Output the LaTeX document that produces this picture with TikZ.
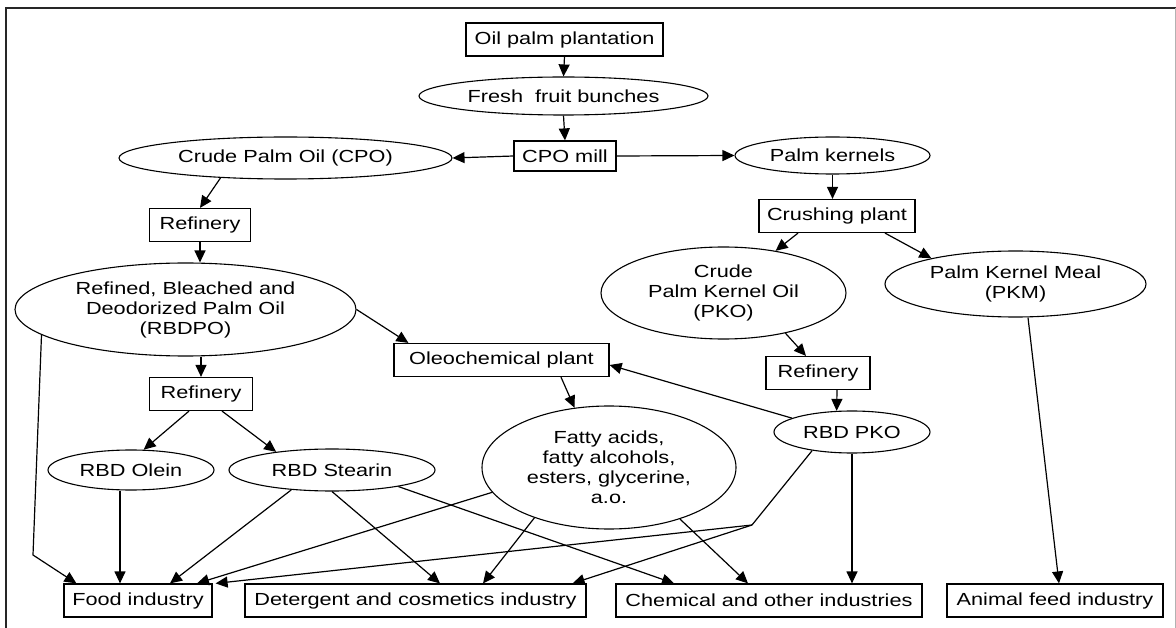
\documentclass[tikz,border=0pt]{standalone}
\usepackage{fontspec}
\setmainfont{Liberation Sans}[FakeStretch=1.24]
\usetikzlibrary{shapes,arrows.meta}

\tikzset{
  box/.style={draw, line width=1.2pt, inner sep=0pt, minimum height=33pt},
  oval/.style={draw, ellipse, line width=1.1pt, inner sep=0pt, align=center},
  arr/.style={-{Triangle[length=12pt,width=11pt]}, line width=1.2pt},
  ln/.style={line width=1.2pt}
}

\begin{document}
\begin{tikzpicture}[x=1pt, y=-1pt, font=\fontsize{17.5}{20}\selectfont]
    \useasboundingbox (0,0) rectangle (1176,628);
    % frame
    \draw[line width=2.2pt, black!85] (6,628) -- (6,8) -- (1176,8);
    \draw[line width=1pt, black!30] (1175,8) -- (1175,628);

    % mill line
    \node[box, minimum width=197pt] (plant) at (564.5,39.5) {Oil palm plantation};
    \node[oval, minimum width=289pt, minimum height=38pt] (ffb) at (563.5,96) {Fresh\ \ fruit bunches};
    \node[box, minimum width=102pt, minimum height=30pt] (mill) at (565,156) {CPO mill};
    \node[oval, minimum width=333pt, minimum height=42pt] (cpo) at (285.5,158) {Crude Palm Oil (CPO)};
    \node[oval, minimum width=195pt, minimum height=37pt] (kernels) at (832.5,155.5) {Palm kernels};

    % palm oil side
    \node[box, minimum width=101pt] (ref1) at (200,225) {Refinery};
    \node[oval, minimum width=341pt, minimum height=93pt] (rbdpo) at (185.5,309.5)
        {Refined, Bleached and\\Deodorized Palm Oil\\(RBDPO)};
    \node[box, minimum width=103pt] (ref2) at (201,394) {Refinery};
    \node[oval, minimum width=166pt, minimum height=40pt] (olein) at (131,470) {RBD Olein};
    \node[oval, minimum width=206pt, minimum height=42pt] (stearin) at (332,470) {RBD Stearin};
    \node[box, minimum width=215pt] (oleo) at (501.5,360) {Oleochemical plant};
    \node[oval, minimum width=254pt, minimum height=123pt] (fatty) at (609,467.5)
        {Fatty acids,\\fatty alcohols,\\esters, glycerine,\\a.o.};

    % kernel side
    \node[box, minimum width=156pt] (crush) at (837,216) {Crushing plant};
    \node[oval, minimum width=245pt, minimum height=92pt] (cpko) at (723.5,293)
        {Crude\\Palm Kernel Oil\\(PKO)};
    \node[oval, minimum width=261pt, minimum height=66pt] (pkm) at (1015.5,284)
        {Palm Kernel Meal\\(PKM)};
    \node[box, minimum width=104pt] (ref3) at (818,373) {Refinery};
    \node[oval, minimum width=156pt, minimum height=42pt] (rbdpko) at (852,432) {RBD PKO};

    % industries
    \node[box, minimum width=148pt] (food) at (138,600.5) {Food industry};
    \node[box, minimum width=341pt] (deter) at (415.5,600.5) {Detergent and cosmetics industry};
    \node[box, minimum width=306pt] (chem) at (769,600.5) {Chemical and other industries};
    \node[box, minimum width=216pt] (feed) at (1055,600.5) {Animal feed industry};

    \coordinate (kinkA) at (33,555);
    \coordinate (kinkB) at (752,525);

    \draw[arr] (plant.south) -- (ffb.north);
    \draw[arr] (ffb.south) -- (mill.north);
    \draw[arr] (mill.west) -- (cpo.east);
    \draw[arr] (mill.east) -- (kernels.west);
    \draw[arr] (kernels.south) -- (kernels.south |- crush.north);
    \draw[arr] (cpo.197) -- (ref1.north);
    \draw[arr] (ref1.south) -- (ref1.south |- rbdpo.north);
    \draw[arr] (ref2.north |- rbdpo.south) -- (ref2.north);
    \draw[arr] (rbdpo.east) -- ([xshift=15pt]oleo.north west);
    \draw[arr] ([xshift=-12pt]ref2.south) -- (olein.58);
    \draw[arr] ([xshift=21pt]ref2.south) -- (stearin.162);
    \draw[arr] ([xshift=59.5pt]oleo.south) -- (fatty.120);
    \draw[arr] ([xshift=-39pt]crush.south) -- (cpko.39);
    \draw[arr] ([xshift=48pt]crush.south) -- (pkm.163);
    \draw[arr] (cpko.-33) -- ([xshift=-12pt]ref3.north);
    \draw[arr] ([xshift=19pt]ref3.south) -- (rbdpko.126);
    \draw[arr] (rbdpko.167) -- ([yshift=-5pt]oleo.east);

    % into the industries
    \draw[arr] (rbdpo.190) -- (kinkA) -- ([xshift=13pt]food.north west);
    \draw[arr] ([xshift=-11pt]olein.south) -- ([xshift=-18pt]food.north);
    \draw[arr] (stearin.206) -- ([xshift=32pt]food.north);
    \draw[arr] (stearin.south) -- ([xshift=24.5pt]deter.north);
    \draw[arr] (stearin.-14) -- ([xshift=-95pt]chem.north);
    \draw[arr] (fatty.192) -- ([xshift=59pt]food.north);
    \draw[arr] (fatty.214) -- ([xshift=67.5pt]deter.north);
    \draw[arr] (fatty.-36) -- ([xshift=-21pt]chem.north);
    \draw[ln] (rbdpko.205) -- (kinkB);
    \draw[arr] (kinkB) -- ([xshift=3pt]food.north east);
    \draw[arr] (kinkB) -- ([xshift=-14pt]deter.north east);
    \draw[arr] (rbdpko.south) -- (rbdpko.south |- chem.north);
    \draw[arr] ([xshift=12.5pt]pkm.south) -- ([xshift=4pt]feed.north);
\end{tikzpicture}
\end{document}
